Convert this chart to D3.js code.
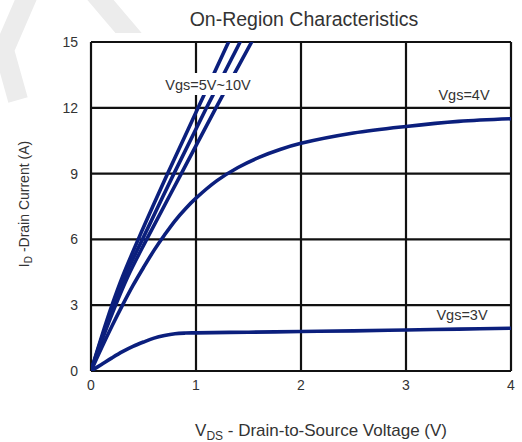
<!DOCTYPE html>
<html>
<head>
<meta charset="utf-8">
<title>On-Region Characteristics</title>
<script src="https://d3js.org/d3.v7.min.js"></script>
<style>
  body { margin: 0; background: #fff; }
  text { font-family: "Liberation Sans", Arial, sans-serif; fill: #333; }
</style>
</head>
<body>
<script>
// data
var xTicks = [0, 1, 2, 3, 4];
var yTicks = [0, 3, 6, 9, 12, 15];

var vgs10V = [[0,0],[0.1,1.55],[0.2,3.0],[0.3,4.3],[0.45,6.0],[0.73,9],[1.02,12],[1.31,15],[1.4,15.9]];
var vgs6V  = [[0,0],[0.1,1.45],[0.2,2.8],[0.33,4.4],[0.49,6.0],[0.79,9],[1.1,12],[1.42,15],[1.5,15.8]];
var vgs5V  = [[0,0],[0.1,1.35],[0.2,2.6],[0.35,4.3],[0.53,6.0],[0.86,9],[1.19,12],[1.53,15],[1.62,15.8]];
var vgs4V  = [[0,0],[0.1,1.05],[0.2,2.05],[0.3,3.0],[0.4,3.9],[0.5,4.72],[0.6,5.5],[0.7,6.2],[0.8,6.85],[0.9,7.4],[1.0,7.88],[1.2,8.68],[1.4,9.28],[1.6,9.74],[1.8,10.1],[2.0,10.38],[2.5,10.85],[3.0,11.15],[3.5,11.38],[4.0,11.5]];
var vgs3V  = [[0,0],[0.1,0.3],[0.2,0.6],[0.3,0.88],[0.4,1.12],[0.5,1.32],[0.6,1.5],[0.7,1.62],[0.8,1.7],[0.9,1.73],[1.0,1.74],[1.5,1.77],[2.0,1.8],[2.5,1.83],[3.0,1.87],[3.5,1.91],[4.0,1.95]];

var curves = [vgs10V, vgs6V, vgs5V, vgs4V, vgs3V];

var width = 522, height = 442;

var x = d3.scaleLinear().domain([0, 4]).range([91, 511]);
var y = d3.scaleLinear().domain([0, 15]).range([371, 42]);

var svg = d3.select("body").append("svg")
  .attr("width", width)
  .attr("height", height);

// faint watermark in the corner
svg.append("path")
  .attr("d", "M30,-10 L4,50 L18,100 M92,-10 L160,70")
  .attr("fill", "none")
  .attr("stroke", "#ececec")
  .attr("stroke-width", 20);
svg.append("rect")
  .attr("x", 63).attr("y", 33)
  .attr("width", width - 63).attr("height", 367)
  .attr("fill", "#fff");

// grid and frame
var grid = svg.append("g").attr("stroke", "#111").attr("stroke-width", 2.2);
grid.selectAll(".vx").data(xTicks).enter().append("line")
  .attr("x1", function(d) { return x(d); })
  .attr("x2", function(d) { return x(d); })
  .attr("y1", y(0)).attr("y2", y(15));
grid.selectAll(".hy").data(yTicks).enter().append("line")
  .attr("x1", x(0)).attr("x2", x(4))
  .attr("y1", function(d) { return y(d); })
  .attr("y2", function(d) { return y(d); });

// tick labels
svg.selectAll(".ylab").data(yTicks).enter().append("text")
  .attr("x", 78)
  .attr("y", function(d) { return y(d) + 5; })
  .attr("text-anchor", "end")
  .attr("font-size", 14)
  .text(function(d) { return d; });
svg.selectAll(".xlab").data(xTicks).enter().append("text")
  .attr("x", function(d) { return x(d); })
  .attr("y", 390)
  .attr("text-anchor", "middle")
  .attr("font-size", 14)
  .text(function(d) { return d; });

// curves
svg.append("clipPath").attr("id", "clip")
  .append("rect")
  .attr("x", x(0)).attr("y", y(15))
  .attr("width", x(4) - x(0)).attr("height", y(0) - y(15));

var line = d3.line()
  .x(function(d) { return x(d[0]); })
  .y(function(d) { return y(d[1]); })
  .curve(d3.curveCatmullRom.alpha(0.5));

svg.append("g").attr("clip-path", "url(#clip)")
  .selectAll("path").data(curves).enter().append("path")
  .attr("d", line)
  .attr("fill", "none")
  .attr("stroke", "#0b1f7d")
  .attr("stroke-width", 3.6);

// curve labels
var lab = svg.append("g");
lab.append("rect")
  .attr("x", 162).attr("y", 73).attr("width", 93).attr("height", 22)
  .attr("fill", "#fff");
lab.append("text").attr("x", 208).attr("y", 90)
  .attr("text-anchor", "middle").attr("font-size", 14.5)
  .text("Vgs=5V~10V");
lab.append("text").attr("x", 464).attr("y", 100)
  .attr("text-anchor", "middle").attr("font-size", 14.5)
  .text("Vgs=4V");
lab.append("text").attr("x", 462).attr("y", 320)
  .attr("text-anchor", "middle").attr("font-size", 14.5)
  .text("Vgs=3V");

// title
svg.append("text")
  .attr("x", 304).attr("y", 26)
  .attr("text-anchor", "middle")
  .attr("font-size", 19.5)
  .text("On-Region Characteristics");

// x axis title
var xt = svg.append("text")
  .attr("x", 321).attr("y", 436)
  .attr("text-anchor", "middle")
  .attr("font-size", 17);
xt.append("tspan").text("V");
xt.append("tspan").attr("font-size", 12).attr("dy", 4).text("DS");
xt.append("tspan").attr("dy", -4).text(" - Drain-to-Source Voltage (V)");

// y axis title
var yt = svg.append("text")
  .attr("transform", "translate(29,204) rotate(-90)")
  .attr("text-anchor", "middle")
  .attr("font-size", 14);
yt.append("tspan").text("I");
yt.append("tspan").attr("font-size", 10).attr("dy", 3).text("D");
yt.append("tspan").attr("dy", -3).text(" -Drain Current (A)");
</script>
</body>
</html>
